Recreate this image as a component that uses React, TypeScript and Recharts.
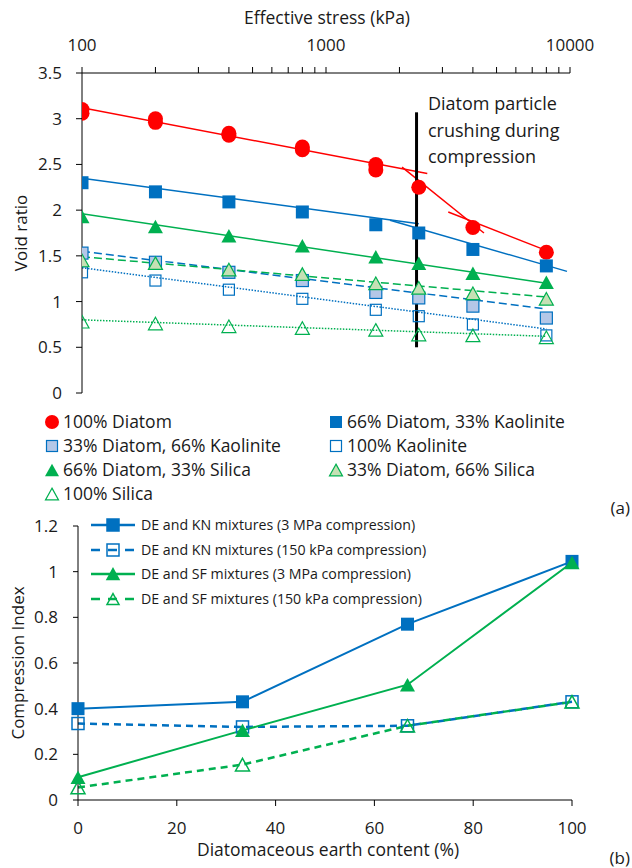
import React from 'react';
import { ComposedChart, Line, XAxis, YAxis } from 'recharts';

const FONT = '"Open Sans", Lato, sans-serif';
const TXT = '#1a1a1a';
const RED = '#FF0000';
const BLUE = '#0070C0';
const GREEN = '#00B050';
const LBLUE = '#B4C7E7';
const LGREEN = '#C5E0B4';

// ---- (a) void ratio vs effective stress ----
const stress = [100, 200, 400, 800, 1600, 2400, 4000, 8000];
const diatomStress = [100, 100, 200, 200, 400, 400, 800, 800, 1600, 1600, 2400, 4000, 8000];
const diatom100 = [3.1, 3.06, 3.0, 2.96, 2.84, 2.82, 2.69, 2.66, 2.5, 2.44, 2.25, 1.81, 1.54];
const d66k33 = [2.3, 2.2, 2.09, 1.98, 1.84, 1.75, 1.57, 1.39];
const d33k66 = [1.53, 1.43, 1.32, 1.23, 1.1, 1.04, 0.95, 0.82];
const kaolinite100 = [1.32, 1.23, 1.13, 1.03, 0.91, 0.84, 0.75, 0.63];
const d66s33 = [1.93, 1.82, 1.72, 1.61, 1.49, 1.42, 1.31, 1.21];
const d33s66 = [1.45, 1.42, 1.35, 1.3, 1.2, 1.15, 1.09, 1.03];
const silica100 = [0.78, 0.76, 0.73, 0.71, 0.69, 0.64, 0.63, 0.61];

// trend lines [stress, void ratio]
const diatomTrend1 = [[100, 3.12], [2600, 2.4]];
const diatomTrend2 = [[2050, 2.47], [4440, 1.75]];
const diatomTrend3 = [[3170, 1.98], [8520, 1.53]];
const d66k33Trend1 = [[100, 2.35], [2400, 1.85]];
const d66k33Trend2 = [[1830, 1.89], [9720, 1.33]];
const d66s33Trend = [[100, 1.96], [8000, 1.2]];
const d33k66Trend = [[100, 1.55], [8000, 0.92]];
const d33s66Trend = [[100, 1.49], [8000, 1.05]];
const kaolinTrend = [[100, 1.37], [8000, 0.7]];
const silicaTrend = [[100, 0.8], [8000, 0.62]];
const crushing = [[2350, 0.5], [2350, 3.07]];

const stressTicks = [100, 200, 300, 400, 500, 600, 700, 800, 900, 1000, 2000, 3000, 4000, 5000, 6000, 7000, 8000, 9000, 10000];
const stressLabels = [100, 1000, 10000];
const voidTicks = [0, 0.5, 1, 1.5, 2, 2.5, 3, 3.5];

// ---- (b) compression index vs DE content ----
const deContent = [0, 33.3, 66.7, 100];
const knCi3MPa = [0.4, 0.43, 0.77, 1.045];
const knCi150kPa = [0.335, 0.32, 0.325, 0.43];
const sfCi3MPa = [0.1, 0.305, 0.505, 1.04];
const sfCi150kPa = [0.055, 0.155, 0.325, 0.43];
const deTicks = [0, 20, 40, 60, 80, 100];
const ciTicks = [0, 0.2, 0.4, 0.6, 0.8, 1, 1.2];

const zip = (xs: number[], ys: number[]) => xs.map((x, i) => ({ x, y: ys[i] }));
const pairs = (p: number[][]) => p.map(([x, y]) => ({ x, y }));

type Shape = 'circle' | 'square' | 'tri';
const mark = (shape: Shape, size: number, fill: string, stroke = 'none', sw = 1) =>
  (p: any) => {
    const { cx, cy, index } = p;
    if (cx == null || cy == null) return <g key={`m-${index}`} />;
    if (shape === 'circle') return <circle key={`m-${index}`} cx={cx} cy={cy} r={size / 2} fill={fill} />;
    if (shape === 'square')
      return <rect key={`m-${index}`} x={cx - size / 2} y={cy - size / 2} width={size} height={size} fill={fill} stroke={stroke} strokeWidth={sw} />;
    const h = size * 0.9;
    return (
      <polygon key={`m-${index}`}
        points={`${cx},${cy - h / 2} ${cx + size / 2},${cy + h / 2} ${cx - size / 2},${cy + h / 2}`}
        fill={fill} stroke={stroke} strokeWidth={sw} strokeLinejoin="miter" />
    );
  };

const tickStyle = { fill: TXT, fontSize: 17, fontFamily: FONT };
const axisStroke = { stroke: '#000', strokeWidth: 1 };

const trend = (p: number[][], color: string, dash?: string, w = 1.5) => (
  <Line data={pairs(p)} dataKey="y" stroke={color} strokeWidth={w} strokeDasharray={dash}
    dot={false} activeDot={false} isAnimationActive={false} legendType="none" />
);
const markers = (xs: number[], ys: number[], dot: any) => (
  <Line data={zip(xs, ys)} dataKey="y" stroke="none" dot={dot}
    activeDot={false} isAnimationActive={false} legendType="none" />
);

const legendA = [
  { label: '100% Diatom', col: 0, row: 0, shape: 'circle', size: 14, fill: RED, stroke: 'none' },
  { label: '66% Diatom, 33% Kaolinite', col: 1, row: 0, shape: 'square', size: 12, fill: BLUE, stroke: 'none' },
  { label: '33% Diatom, 66% Kaolinite', col: 0, row: 1, shape: 'square', size: 11, fill: LBLUE, stroke: BLUE },
  { label: '100% Kaolinite', col: 1, row: 1, shape: 'square', size: 11, fill: 'none', stroke: BLUE },
  { label: '66% Diatom, 33% Silica', col: 0, row: 2, shape: 'tri', size: 14, fill: GREEN, stroke: 'none' },
  { label: '33% Diatom, 66% Silica', col: 1, row: 2, shape: 'tri', size: 13, fill: LGREEN, stroke: GREEN },
  { label: '100% Silica', col: 0, row: 3, shape: 'tri', size: 13, fill: 'none', stroke: GREEN },
];
const legendB = [
  { label: 'DE and KN mixtures (3 MPa compression)', color: BLUE, dash: false, shape: 'square', fill: BLUE },
  { label: 'DE and KN mixtures (150 kPa compression)', color: BLUE, dash: true, shape: 'square', fill: 'none' },
  { label: 'DE and SF mixtures (3 MPa compression)', color: GREEN, dash: false, shape: 'tri', fill: GREEN },
  { label: 'DE and SF mixtures (150 kPa compression)', color: GREEN, dash: true, shape: 'tri', fill: 'none' },
];

function Annotations() {
  const colX = [52, 336];
  const rowY = [422, 446, 470, 494];
  const rowB = [525, 550, 574, 599];
  return (
    <svg width={632} height={868} style={{ position: 'absolute', left: 0, top: 0, pointerEvents: 'none' }}
      fontFamily={FONT} fill={TXT}>
      <text x={327} y={24} fontSize={17.5} textAnchor="middle">Effective stress (kPa)</text>
      <text x={20} y={233} fontSize={17} textAnchor="middle" dominantBaseline="central" transform="rotate(-90 20 233)">Void ratio</text>
      <text x={428} y={110} fontSize={18}>Diatom particle</text>
      <text x={428} y={137} fontSize={18}>crushing during</text>
      <text x={428} y={163} fontSize={18}>compression</text>
      {legendA.map((d) => {
        const cx = colX[d.col];
        const cy = rowY[d.row];
        return (
          <g key={d.label}>
            {mark(d.shape as Shape, d.size, d.fill, d.stroke, 1.2)({ cx, cy, index: 0 })}
            <text x={cx + 11} y={cy + 6} fontSize={17.5}>{d.label}</text>
          </g>
        );
      })}
      <text x={630} y={514} fontSize={17} textAnchor="end">(a)</text>
      {legendB.map((d, i) => {
        const cy = rowB[i];
        return (
          <g key={d.label}>
            <line x1={91} x2={135} y1={cy} y2={cy} stroke={d.color} strokeWidth={2.5} strokeDasharray={d.dash ? '9 8' : undefined} />
            {mark(d.shape as Shape, 12, d.fill, d.color, 1.5)({ cx: 113, cy, index: 0 })}
            <text x={141} y={cy + 5} fontSize={14.2}>{d.label}</text>
          </g>
        );
      })}
      <text x={17} y={663} fontSize={17} textAnchor="middle" dominantBaseline="central" transform="rotate(-90 17 663)">Compression Index</text>
      <text x={328} y={856} fontSize={17.5} textAnchor="middle">Diatomaceous earth content (%)</text>
      <text x={630} y={864} fontSize={17} textAnchor="end">(b)</text>
    </svg>
  );
}

export default function App() {
  return (
    <div style={{ position: 'absolute', left: 0, top: 0, width: 632, height: 868, background: '#fff', fontFamily: FONT }}>
      <div style={{ position: 'absolute', left: 0, top: 0 }}>
        <ComposedChart width={632} height={410} margin={{ top: 43, right: 62, bottom: 17, left: 0 }}>
          <XAxis type="number" dataKey="x" scale="log" domain={[100, 10000]} allowDataOverflow orientation="top"
            ticks={stressTicks} interval={0} height={30} tickSize={6} tickMargin={16}
            tickFormatter={(v: number) => (stressLabels.includes(v) ? String(v) : '')}
            tick={tickStyle} axisLine={axisStroke} tickLine={axisStroke} />
          <YAxis type="number" domain={[0, 3.5]} ticks={voidTicks} interval={0} width={82} tickSize={6} tickMargin={14}
            tick={tickStyle} axisLine={axisStroke} tickLine={axisStroke} />
          {trend(diatomTrend1, RED)}
          {trend(diatomTrend2, RED)}
          {trend(diatomTrend3, RED)}
          {trend(d66k33Trend1, BLUE)}
          {trend(d66k33Trend2, BLUE)}
          {trend(d66s33Trend, GREEN)}
          {trend(d33k66Trend, BLUE, '8 4')}
          {trend(d33s66Trend, GREEN, '8 4')}
          {trend(kaolinTrend, BLUE, '1.5 1.5')}
          {trend(silicaTrend, GREEN, '1.5 1.5')}
          {markers(diatomStress, diatom100, mark('circle', 15, RED))}
          {markers(stress, d66k33, mark('square', 13, BLUE))}
          {markers(stress, d33k66, mark('square', 12, LBLUE, BLUE, 1.2))}
          {markers(stress, kaolinite100, mark('square', 11, 'none', BLUE, 1.2))}
          {markers(stress, d66s33, mark('tri', 15, GREEN))}
          {markers(stress, d33s66, mark('tri', 14, LGREEN, GREEN, 1.2))}
          {markers(stress, silica100, mark('tri', 14, 'none', GREEN, 1.2))}
          {trend(crushing, '#000', undefined, 3)}
        </ComposedChart>
      </div>
      <div style={{ position: 'absolute', left: 0, top: 500 }}>
        <ComposedChart width={632} height={368} margin={{ top: 26, right: 60, bottom: 8, left: 0 }}>
          <XAxis type="number" dataKey="x" domain={[0, 100]} ticks={deTicks} interval={0} height={60}
            tickSize={6} tickMargin={16} tick={tickStyle} axisLine={axisStroke} tickLine={axisStroke} />
          <YAxis type="number" domain={[0, 1.2]} ticks={ciTicks} interval={0} width={78} tickSize={5} tickMargin={15}
            tick={tickStyle} axisLine={axisStroke} tickLine={axisStroke} />
          <Line data={zip(deContent, knCi3MPa)} dataKey="y" stroke={BLUE} strokeWidth={2}
            dot={mark('square', 13, BLUE)} activeDot={false} isAnimationActive={false} />
          <Line data={zip(deContent, knCi150kPa)} dataKey="y" stroke={BLUE} strokeWidth={2.5} strokeDasharray="7 5"
            dot={mark('square', 12, 'none', BLUE, 1.5)} activeDot={false} isAnimationActive={false} />
          <Line data={zip(deContent, sfCi3MPa)} dataKey="y" stroke={GREEN} strokeWidth={2}
            dot={mark('tri', 15, GREEN)} activeDot={false} isAnimationActive={false} />
          <Line data={zip(deContent, sfCi150kPa)} dataKey="y" stroke={GREEN} strokeWidth={2.5} strokeDasharray="7 5"
            dot={mark('tri', 14, 'none', GREEN, 1.5)} activeDot={false} isAnimationActive={false} />
        </ComposedChart>
      </div>
      <Annotations />
    </div>
  );
}
